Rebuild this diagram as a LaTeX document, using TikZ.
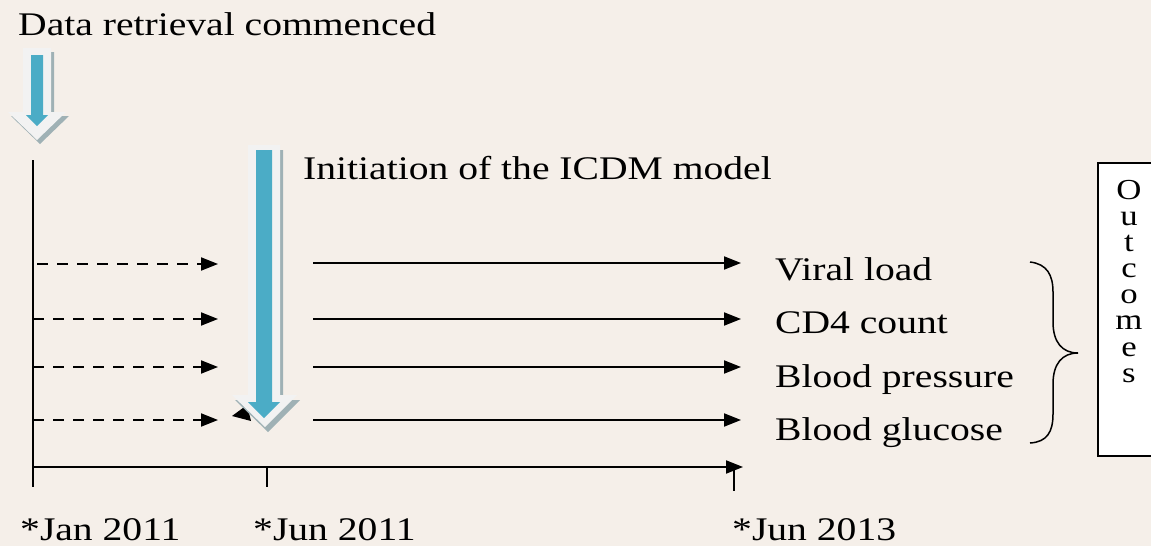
\documentclass[tikz,border=0pt]{standalone}
\usepackage{fontspec}
\setmainfont{Liberation Serif}[FakeStretch=1.2]
\usetikzlibrary{arrows.meta}
\definecolor{bg}{HTML}{F5EFE9}
\definecolor{arrblue}{HTML}{4BACC6}
\definecolor{arrwhite}{HTML}{F2F2F2}
\definecolor{arrshadow}{HTML}{9FB1B5}
\tikzset{
  lbl/.style={inner sep=0pt, anchor=base west, font=\fontsize{33}{36}\selectfont},
  letters/.style={inner sep=0pt, anchor=north, align=center, font=\fontsize{29}{26.1}\selectfont},
  axis/.style={line width=2pt, black},
  flow/.style={line width=2pt, black, -{Triangle[length=17pt,width=13pt]}},
  dflow/.style={flow, dash pattern=on 11pt off 9pt},
  bigarrow/.style={fill=arrwhite, draw=none},
  shadowarrow/.style={fill=arrshadow, draw=none},
  innerarrow/.style={fill=arrblue, draw=none}
}
\begin{document}
\begin{tikzpicture}[x=1pt,y=-1pt]
\useasboundingbox (0,0) rectangle (1151,546);
\fill[bg] (0,0) rectangle (1151,546);

% texts
\node[lbl] (dr) at (18,35) {Data retrieval commenced};
\node[lbl] (init) at (303,179) {Initiation of the ICDM model};
\node[lbl] (vl) at (775,280) {Viral load};
\node[lbl] (cd4) at (775,333) {CD4 count};
\node[lbl] (bp) at (775,387) {Blood pressure};
\node[lbl] (bg) at (775,440) {Blood glucose};
\node[lbl] (t1) at (20,540) {*Jan 2011};
\node[lbl] (t2) at (253,540) {*Jun 2011};
\node[lbl] (t3) at (732,540) {*Jun 2013};

% axes
\coordinate (vtop) at (33,160);
\coordinate (origin) at (33,467);
\coordinate (vbot) at (33,487);
\coordinate (hend) at (743,467);
\draw[axis] (vtop) -- (vbot);
\draw[flow] (origin) -- (hend);
\coordinate (tk2a) at (267,467);
\coordinate (tk2b) at (267,487);
\coordinate (tk3a) at (734,467);
\coordinate (tk3b) at (734,491);
\draw[axis] (tk2a) -- (tk2b);
\draw[axis] (tk3a) -- (tk3b);

% dashed arrows
\foreach \y/\xs [count=\i] in {264/37,319/33,367/33,420/33}{
  \coordinate (ds\i) at (\xs,\y);
  \coordinate (de\i) at (218,\y);
  \draw[dflow] (ds\i) -- (de\i);
}
% solid arrows
\foreach \y [count=\i] in {263,319,367,420}{
  \coordinate (ss\i) at (313,\y);
  \coordinate (se\i) at (741,\y);
  \draw[flow] (ss\i) -- (se\i);
}

% stray arrowhead under big arrow
\fill[black] (232,416) -- (247,405) -- (251,421) -- cycle;

% small block arrow
\fill[shadowarrow] (26,52) -- (54,52) -- (54,116) -- (69,116) -- (40,144) -- (11,116) -- (26,116) -- cycle;
\fill[bigarrow] (23,48) -- (51,48) -- (51,112) -- (66,112) -- (37,140) -- (8,112) -- (23,112) -- cycle;
\fill[innerarrow] (31,55) -- (43,55) -- (43,115) -- (48,115) -- (37,126) -- (26,115) -- (31,115) -- cycle;

% big block arrow
\fill[shadowarrow] (251,150) -- (283,150) -- (283,400) -- (300,400) -- (268,432) -- (235,400) -- (251,400) -- cycle;
\fill[bigarrow] (248,145) -- (280,145) -- (280,395) -- (297,395) -- (265,427) -- (232,395) -- (248,395) -- cycle;
\fill[innerarrow] (256,150) -- (272,150) -- (272,402) -- (280,402) -- (264,418) -- (248,402) -- (256,402) -- cycle;

% brace
\coordinate (brtop) at (1030,262);
\coordinate (brtip) at (1078,353);
\coordinate (brbot) at (1030,443);
\draw[line width=1.5pt] (brtop) .. controls (1047,264) and (1053,275) .. (1053,292) -- (1053,322)
  .. controls (1053,342) and (1062,353) .. (brtip)
  .. controls (1062,353) and (1053,364) .. (1053,384) -- (1053,414)
  .. controls (1053,432) and (1047,442) .. (brbot);

% outcomes box
\node[draw, line width=1.5pt, fill=white, inner sep=0pt, anchor=north west,
      minimum width=80pt, minimum height=293pt] (box) at (1097,162) {};
\node[letters] (outc) at (1129,180) {O\\u\\t\\c\\o\\m\\e\\s};
\end{tikzpicture}
\end{document}
